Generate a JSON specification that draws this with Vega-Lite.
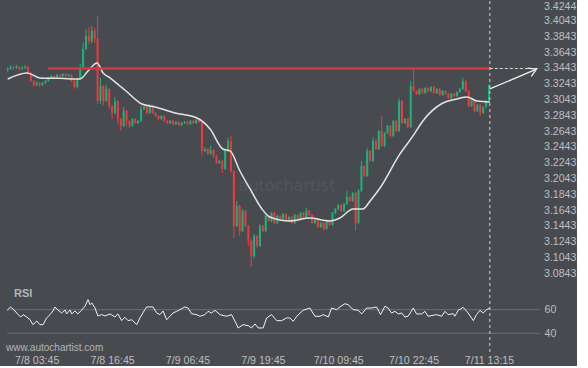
{
"$schema": "https://vega.github.io/schema/vega-lite/v6.json",
"background": "#474b50",
"padding": 0,
"config": {
  "view": {"stroke": null},
  "concat": {"spacing": 0},
  "axis": {"domain": false, "ticks": false, "tickSize": 0, "grid": false, "labelColor": "#bdbec0", "labelFont": "Liberation Sans", "labelFontSize": 10.6, "labelOverlap": false}
},
"datasets": {
"candles": [
{"b":-10,"o":3.3424,"c":3.3437,"h":3.3462,"l":3.3399},
{"b":-9,"o":3.3437,"c":3.3462,"h":3.3487,"l":3.3424},
{"b":-8,"o":3.3462,"c":3.3449,"h":3.3475,"l":3.3424},
{"b":-7,"o":3.3449,"c":3.3462,"h":3.3487,"l":3.3437},
{"b":-6,"o":3.3462,"c":3.3437,"h":3.3475,"l":3.3411},
{"b":-5,"o":3.3437,"c":3.3449,"h":3.3475,"l":3.3424},
{"b":-4,"o":3.3449,"c":3.3462,"h":3.3487,"l":3.3437},
{"b":-3,"o":3.3462,"c":3.3386,"h":3.3475,"l":3.3373},
{"b":-2,"o":3.3386,"c":3.3285,"h":3.3399,"l":3.3272},
{"b":-1,"o":3.3285,"c":3.3234,"h":3.3297,"l":3.3209},
{"b":0,"o":3.3234,"c":3.3259,"h":3.3285,"l":3.3221},
{"b":1,"o":3.3259,"c":3.3234,"h":3.3272,"l":3.3209},
{"b":2,"o":3.3234,"c":3.3259,"h":3.3272,"l":3.3221},
{"b":3,"o":3.3259,"c":3.3285,"h":3.3297,"l":3.3247},
{"b":4,"o":3.3285,"c":3.3323,"h":3.3335,"l":3.3272},
{"b":5,"o":3.3323,"c":3.3348,"h":3.3361,"l":3.3310},
{"b":6,"o":3.3348,"c":3.3335,"h":3.3361,"l":3.3323},
{"b":7,"o":3.3335,"c":3.3361,"h":3.3373,"l":3.3323},
{"b":8,"o":3.3361,"c":3.3348,"h":3.3373,"l":3.3335},
{"b":9,"o":3.3348,"c":3.3373,"h":3.3386,"l":3.3335},
{"b":10,"o":3.3373,"c":3.3348,"h":3.3386,"l":3.3335},
{"b":11,"o":3.3348,"c":3.3361,"h":3.3373,"l":3.3335},
{"b":12,"o":3.3361,"c":3.3285,"h":3.3373,"l":3.3272},
{"b":13,"o":3.3285,"c":3.3209,"h":3.3297,"l":3.3184},
{"b":14,"o":3.3209,"c":3.3310,"h":3.3323,"l":3.3196},
{"b":15,"o":3.3310,"c":3.3462,"h":3.3500,"l":3.3297},
{"b":16,"o":3.3462,"c":3.3690,"h":3.3766,"l":3.3449},
{"b":17,"o":3.3690,"c":3.3854,"h":3.3943,"l":3.3677},
{"b":18,"o":3.3854,"c":3.3791,"h":3.3968,"l":3.3753},
{"b":19,"o":3.3791,"c":3.3918,"h":3.3981,"l":3.3766},
{"b":20,"o":3.3918,"c":3.3816,"h":3.3956,"l":3.3766},
{"b":21,"o":3.3816,"c":3.3032,"h":3.4108,"l":3.2994},
{"b":22,"o":3.3032,"c":3.3221,"h":3.3323,"l":3.2994},
{"b":23,"o":3.3221,"c":3.3032,"h":3.3234,"l":3.2981},
{"b":24,"o":3.3032,"c":3.3184,"h":3.3234,"l":3.3019},
{"b":25,"o":3.3184,"c":3.2968,"h":3.3196,"l":3.2930},
{"b":26,"o":3.2968,"c":3.2880,"h":3.2981,"l":3.2804},
{"b":27,"o":3.2880,"c":3.3032,"h":3.3082,"l":3.2867},
{"b":28,"o":3.3032,"c":3.2804,"h":3.3044,"l":3.2740},
{"b":29,"o":3.2804,"c":3.2715,"h":3.2816,"l":3.2652},
{"b":30,"o":3.2715,"c":3.2905,"h":3.2956,"l":3.2702},
{"b":31,"o":3.2905,"c":3.2779,"h":3.2918,"l":3.2715},
{"b":32,"o":3.2779,"c":3.2715,"h":3.2791,"l":3.2690},
{"b":33,"o":3.2715,"c":3.2804,"h":3.2816,"l":3.2702},
{"b":34,"o":3.2804,"c":3.2753,"h":3.2816,"l":3.2740},
{"b":35,"o":3.2753,"c":3.2779,"h":3.2791,"l":3.2740},
{"b":36,"o":3.2779,"c":3.2930,"h":3.2968,"l":3.2766},
{"b":37,"o":3.2930,"c":3.2956,"h":3.2968,"l":3.2918},
{"b":38,"o":3.2956,"c":3.2880,"h":3.2968,"l":3.2867},
{"b":39,"o":3.2880,"c":3.2968,"h":3.2994,"l":3.2867},
{"b":40,"o":3.2968,"c":3.2880,"h":3.2981,"l":3.2867},
{"b":41,"o":3.2880,"c":3.2842,"h":3.2892,"l":3.2829},
{"b":42,"o":3.2842,"c":3.2804,"h":3.2854,"l":3.2791},
{"b":43,"o":3.2804,"c":3.2842,"h":3.2854,"l":3.2791},
{"b":44,"o":3.2842,"c":3.2779,"h":3.2854,"l":3.2766},
{"b":45,"o":3.2779,"c":3.2753,"h":3.2791,"l":3.2740},
{"b":46,"o":3.2753,"c":3.2779,"h":3.2791,"l":3.2740},
{"b":47,"o":3.2779,"c":3.2740,"h":3.2791,"l":3.2728},
{"b":48,"o":3.2740,"c":3.2766,"h":3.2779,"l":3.2728},
{"b":49,"o":3.2766,"c":3.2728,"h":3.2779,"l":3.2715},
{"b":50,"o":3.2728,"c":3.2753,"h":3.2766,"l":3.2715},
{"b":51,"o":3.2753,"c":3.2766,"h":3.2779,"l":3.2740},
{"b":52,"o":3.2766,"c":3.2740,"h":3.2779,"l":3.2728},
{"b":53,"o":3.2740,"c":3.2779,"h":3.2791,"l":3.2728},
{"b":54,"o":3.2779,"c":3.2753,"h":3.2791,"l":3.2740},
{"b":55,"o":3.2753,"c":3.2791,"h":3.2804,"l":3.2740},
{"b":56,"o":3.2791,"c":3.2766,"h":3.2804,"l":3.2753},
{"b":57,"o":3.2766,"c":3.2399,"h":3.2779,"l":3.2335},
{"b":58,"o":3.2399,"c":3.2424,"h":3.2449,"l":3.2386},
{"b":59,"o":3.2424,"c":3.2361,"h":3.2437,"l":3.2348},
{"b":60,"o":3.2361,"c":3.2411,"h":3.2462,"l":3.2348},
{"b":61,"o":3.2411,"c":3.2335,"h":3.2424,"l":3.2310},
{"b":62,"o":3.2335,"c":3.2247,"h":3.2348,"l":3.2234},
{"b":63,"o":3.2247,"c":3.2272,"h":3.2285,"l":3.2234},
{"b":64,"o":3.2272,"c":3.2171,"h":3.2285,"l":3.2120},
{"b":65,"o":3.2171,"c":3.2399,"h":3.2411,"l":3.2158},
{"b":66,"o":3.2399,"c":3.2525,"h":3.2563,"l":3.2386},
{"b":67,"o":3.2525,"c":3.2145,"h":3.2589,"l":3.2120},
{"b":68,"o":3.2145,"c":3.1449,"h":3.2158,"l":3.1297},
{"b":69,"o":3.1449,"c":3.1703,"h":3.1766,"l":3.1437},
{"b":70,"o":3.1703,"c":3.1386,"h":3.1715,"l":3.1323},
{"b":71,"o":3.1386,"c":3.1639,"h":3.1664,"l":3.1373},
{"b":72,"o":3.1639,"c":3.1449,"h":3.1652,"l":3.1437},
{"b":73,"o":3.1449,"c":3.1260,"h":3.1462,"l":3.1196},
{"b":74,"o":3.1260,"c":3.1070,"h":3.1285,"l":3.0930},
{"b":75,"o":3.1070,"c":3.1323,"h":3.1348,"l":3.1044},
{"b":76,"o":3.1323,"c":3.1196,"h":3.1335,"l":3.1171},
{"b":77,"o":3.1196,"c":3.1449,"h":3.1475,"l":3.1184},
{"b":78,"o":3.1449,"c":3.1386,"h":3.1462,"l":3.1373},
{"b":79,"o":3.1386,"c":3.1576,"h":3.1601,"l":3.1373},
{"b":80,"o":3.1576,"c":3.1513,"h":3.1589,"l":3.1500},
{"b":81,"o":3.1513,"c":3.1614,"h":3.1626,"l":3.1500},
{"b":82,"o":3.1614,"c":3.1487,"h":3.1626,"l":3.1475},
{"b":83,"o":3.1487,"c":3.1576,"h":3.1589,"l":3.1475},
{"b":84,"o":3.1576,"c":3.1538,"h":3.1589,"l":3.1525},
{"b":85,"o":3.1538,"c":3.1601,"h":3.1614,"l":3.1525},
{"b":86,"o":3.1601,"c":3.1513,"h":3.1614,"l":3.1500},
{"b":87,"o":3.1513,"c":3.1563,"h":3.1576,"l":3.1500},
{"b":88,"o":3.1563,"c":3.1487,"h":3.1576,"l":3.1475},
{"b":89,"o":3.1487,"c":3.1589,"h":3.1601,"l":3.1475},
{"b":90,"o":3.1589,"c":3.1538,"h":3.1601,"l":3.1525},
{"b":91,"o":3.1538,"c":3.1614,"h":3.1626,"l":3.1525},
{"b":92,"o":3.1614,"c":3.1563,"h":3.1626,"l":3.1550},
{"b":93,"o":3.1563,"c":3.1639,"h":3.1677,"l":3.1550},
{"b":94,"o":3.1639,"c":3.1589,"h":3.1652,"l":3.1576},
{"b":95,"o":3.1589,"c":3.1487,"h":3.1601,"l":3.1475},
{"b":96,"o":3.1487,"c":3.1538,"h":3.1550,"l":3.1475},
{"b":97,"o":3.1538,"c":3.1437,"h":3.1550,"l":3.1424},
{"b":98,"o":3.1437,"c":3.1487,"h":3.1500,"l":3.1424},
{"b":99,"o":3.1487,"c":3.1411,"h":3.1500,"l":3.1386},
{"b":100,"o":3.1411,"c":3.1513,"h":3.1525,"l":3.1399},
{"b":101,"o":3.1513,"c":3.1462,"h":3.1525,"l":3.1449},
{"b":102,"o":3.1462,"c":3.1614,"h":3.1626,"l":3.1449},
{"b":103,"o":3.1614,"c":3.1664,"h":3.1677,"l":3.1601},
{"b":104,"o":3.1664,"c":3.1715,"h":3.1728,"l":3.1652},
{"b":105,"o":3.1715,"c":3.1639,"h":3.1728,"l":3.1626},
{"b":106,"o":3.1639,"c":3.1728,"h":3.1741,"l":3.1626},
{"b":107,"o":3.1728,"c":3.1816,"h":3.1892,"l":3.1715},
{"b":108,"o":3.1816,"c":3.1766,"h":3.1829,"l":3.1753},
{"b":109,"o":3.1766,"c":3.1867,"h":3.1880,"l":3.1753},
{"b":110,"o":3.1867,"c":3.1487,"h":3.1880,"l":3.1386},
{"b":111,"o":3.1487,"c":3.1892,"h":3.1918,"l":3.1475},
{"b":112,"o":3.1892,"c":3.2209,"h":3.2272,"l":3.1880},
{"b":113,"o":3.2209,"c":3.2082,"h":3.2221,"l":3.2069},
{"b":114,"o":3.2082,"c":3.2399,"h":3.2437,"l":3.2069},
{"b":115,"o":3.2399,"c":3.2272,"h":3.2411,"l":3.2259},
{"b":116,"o":3.2272,"c":3.2525,"h":3.2576,"l":3.2259},
{"b":117,"o":3.2525,"c":3.2424,"h":3.2550,"l":3.2411},
{"b":118,"o":3.2424,"c":3.2652,"h":3.2664,"l":3.2411},
{"b":119,"o":3.2652,"c":3.2462,"h":3.2842,"l":3.2449},
{"b":120,"o":3.2462,"c":3.2626,"h":3.2639,"l":3.2449},
{"b":121,"o":3.2626,"c":3.2715,"h":3.2728,"l":3.2614},
{"b":122,"o":3.2715,"c":3.2589,"h":3.2728,"l":3.2576},
{"b":123,"o":3.2589,"c":3.2779,"h":3.2791,"l":3.2576},
{"b":124,"o":3.2779,"c":3.2652,"h":3.2791,"l":3.2639},
{"b":125,"o":3.2652,"c":3.3032,"h":3.3070,"l":3.2639},
{"b":126,"o":3.3032,"c":3.2753,"h":3.3044,"l":3.2740},
{"b":127,"o":3.2753,"c":3.2804,"h":3.2816,"l":3.2740},
{"b":128,"o":3.2804,"c":3.2702,"h":3.2816,"l":3.2690},
{"b":129,"o":3.2702,"c":3.3221,"h":3.3285,"l":3.2690},
{"b":130,"o":3.3221,"c":3.3158,"h":3.3437,"l":3.3145},
{"b":131,"o":3.3158,"c":3.3120,"h":3.3171,"l":3.3108},
{"b":132,"o":3.3120,"c":3.3184,"h":3.3196,"l":3.3108},
{"b":133,"o":3.3184,"c":3.3133,"h":3.3196,"l":3.3120},
{"b":134,"o":3.3133,"c":3.3196,"h":3.3209,"l":3.3120},
{"b":135,"o":3.3196,"c":3.3158,"h":3.3209,"l":3.3145},
{"b":136,"o":3.3158,"c":3.3209,"h":3.3221,"l":3.3145},
{"b":137,"o":3.3209,"c":3.3133,"h":3.3221,"l":3.3120},
{"b":138,"o":3.3133,"c":3.3184,"h":3.3196,"l":3.3120},
{"b":139,"o":3.3184,"c":3.3108,"h":3.3196,"l":3.3095},
{"b":140,"o":3.3108,"c":3.3158,"h":3.3171,"l":3.3095},
{"b":141,"o":3.3158,"c":3.3120,"h":3.3171,"l":3.3108},
{"b":142,"o":3.3120,"c":3.3070,"h":3.3133,"l":3.3057},
{"b":143,"o":3.3070,"c":3.3120,"h":3.3133,"l":3.3057},
{"b":144,"o":3.3120,"c":3.3095,"h":3.3133,"l":3.3082},
{"b":145,"o":3.3095,"c":3.3145,"h":3.3158,"l":3.3082},
{"b":146,"o":3.3145,"c":3.3184,"h":3.3196,"l":3.3133},
{"b":147,"o":3.3184,"c":3.3285,"h":3.3323,"l":3.3171},
{"b":148,"o":3.3285,"c":3.3158,"h":3.3297,"l":3.3145},
{"b":149,"o":3.3158,"c":3.2968,"h":3.3171,"l":3.2956},
{"b":150,"o":3.2968,"c":3.3032,"h":3.3044,"l":3.2956},
{"b":151,"o":3.3032,"c":3.2905,"h":3.3044,"l":3.2892},
{"b":152,"o":3.2905,"c":3.2981,"h":3.2994,"l":3.2892},
{"b":153,"o":3.2981,"c":3.2880,"h":3.2994,"l":3.2842},
{"b":154,"o":3.2880,"c":3.2956,"h":3.2968,"l":3.2867},
{"b":155,"o":3.2956,"c":3.3032,"h":3.3044,"l":3.2943},
{"b":156,"o":3.3032,"c":3.3221,"h":3.3247,"l":3.3019}
],
"ma": [
{"b":-10,"v":3.3310},{"b":-3.3,"v":3.3386},{"b":1.1,"v":3.3323},{"b":8,"v":3.3318},{"b":14.9,"v":3.3310},
{"b":17.7,"v":3.3411},{"b":20.8,"v":3.3513},{"b":22.9,"v":3.3386},{"b":25.3,"v":3.3323},{"b":28.7,"v":3.3221},
{"b":30.4,"v":3.3171},{"b":36.3,"v":3.2994},{"b":40.8,"v":3.2956},{"b":47.7,"v":3.2880},{"b":55.3,"v":3.2816},
{"b":59.8,"v":3.2677},{"b":64.2,"v":3.2424},{"b":66.7,"v":3.2399},{"b":70.1,"v":3.2145},{"b":73.6,"v":3.1918},
{"b":77.7,"v":3.1664},{"b":80.4,"v":3.1563},{"b":87.3,"v":3.1513},{"b":94.2,"v":3.1550},{"b":101,"v":3.1513},
{"b":104.6,"v":3.1550},{"b":109.1,"v":3.1664},{"b":112.5,"v":3.1664},{"b":115,"v":3.1766},{"b":118.4,"v":3.1930},
{"b":125.3,"v":3.2361},{"b":129.8,"v":3.2589},{"b":133.2,"v":3.2779},{"b":140.1,"v":3.3006},{"b":144.9,"v":3.3057},
{"b":148.4,"v":3.3082},{"b":151.8,"v":3.3032},{"b":156.3,"v":3.3019}
],
"segs": [
{"k":"level","b":4,"v":3.3443,"b2":156.3,"v2":3.3443},
{"k":"ext","b":156.3,"v":3.3443,"b2":173.6,"v2":3.3443},
{"k":"arrow","b":156.3,"v":3.3184,"b2":172.4,"v2":3.3434},
{"k":"arrow","b":172.4,"v":3.3434,"b2":169.3,"v2":3.3447},
{"k":"arrow","b":172.4,"v":3.3434,"b2":170.6,"v2":3.3342}
],
"now": [{"b":156.3}],
"mark": [{"b":86.3,"v":3.1956,"t":"autochartist"}],
"ticks": [
{"v":3.0843},{"v":3.1043},{"v":3.1243},{"v":3.1443},{"v":3.1643},{"v":3.1843},{"v":3.2043},{"v":3.2243},{"v":3.2443},
{"v":3.2643},{"v":3.2843},{"v":3.3043},{"v":3.3243},{"v":3.3443},{"v":3.3643},{"v":3.3843},{"v":3.4043},{"v":3.4244}
],
"rsi": [
{"b":-10.2,"r":59.5},{"b":-9.0,"r":62.3},{"b":-7.5,"r":58.9},{"b":-6.4,"r":55.8},{"b":-5.5,"r":53.8},{"b":-4.7,"r":55.8},
{"b":-3.4,"r":53.8},{"b":-2.3,"r":51.5},{"b":-1.3,"r":47.3},{"b":0,"r":50.4},{"b":1.1,"r":47.3},{"b":2.2,"r":47.3},
{"b":3.4,"r":53.0},{"b":4.6,"r":55.8},{"b":5.6,"r":58.9},{"b":6.3,"r":62.3},{"b":7.3,"r":59.7},{"b":8.6,"r":57.2},
{"b":9.8,"r":59.7},{"b":10.3,"r":56.4},{"b":11.5,"r":59.7},{"b":12.1,"r":56.4},{"b":13.2,"r":58.9},{"b":14.2,"r":56.4},
{"b":15.5,"r":59.7},{"b":16.7,"r":63.1},{"b":17.7,"r":68.5},{"b":18.4,"r":64.2},{"b":19.0,"r":65.7},{"b":20.1,"r":61.4},
{"b":21.1,"r":54.7},{"b":22.4,"r":55.8},{"b":23.6,"r":54.7},{"b":25.3,"r":56.4},{"b":27.0,"r":53.8},{"b":28.0,"r":56.4},
{"b":29.3,"r":50.7},{"b":30.4,"r":53.6},{"b":31.5,"r":50.7},{"b":32.8,"r":51.5},{"b":34.5,"r":47.3},{"b":35.6,"r":53.0},
{"b":37.3,"r":60.0},{"b":37.9,"r":62.3},{"b":40.1,"r":62.3},{"b":41.4,"r":57.2},{"b":42.5,"r":55.8},{"b":43.6,"r":58.9},
{"b":44.8,"r":51.5},{"b":46.0,"r":54.4},{"b":47.0,"r":57.2},{"b":48.3,"r":58.6},{"b":49.4,"r":60.0},{"b":51.1,"r":62.3},
{"b":52.2,"r":61.4},{"b":53.4,"r":56.6},{"b":55.2,"r":55.8},{"b":56.3,"r":54.4},{"b":58.0,"r":55.8},{"b":59.1,"r":58.6},
{"b":60.3,"r":57.2},{"b":61.5,"r":59.5},{"b":63.2,"r":55.8},{"b":65.5,"r":54.4},{"b":67.2,"r":55.8},{"b":68.4,"r":50.2},
{"b":69.5,"r":44.5},{"b":71.2,"r":47.3},{"b":73.0,"r":46.4},{"b":74.1,"r":44.5},{"b":75.3,"r":47.9},{"b":76.4,"r":44.5},
{"b":78.1,"r":44.5},{"b":79.3,"r":53.0},{"b":81.0,"r":55.8},{"b":82.8,"r":50.7},{"b":84.5,"r":50.7},{"b":86.2,"r":53.0},
{"b":87.3,"r":53.0},{"b":88.5,"r":50.2},{"b":89.7,"r":54.4},{"b":91.9,"r":59.5},{"b":94.2,"r":61.4},{"b":96.0,"r":54.4},
{"b":97.7,"r":54.4},{"b":98.8,"r":55.8},{"b":100.6,"r":53.8},{"b":101.7,"r":61.4},{"b":103.4,"r":60.0},{"b":104.6,"r":62.3},
{"b":106.3,"r":65.1},{"b":107.4,"r":64.2},{"b":109.2,"r":60.0},{"b":110.9,"r":59.5},{"b":112.1,"r":56.4},{"b":113.8,"r":61.4},
{"b":115.5,"r":61.4},{"b":117.2,"r":62.3},{"b":118.6,"r":55.8},{"b":120.1,"r":62.9},{"b":121.2,"r":61.4},{"b":122.4,"r":57.2},
{"b":123.6,"r":58.6},{"b":124.7,"r":56.4},{"b":125.9,"r":57.2},{"b":127.0,"r":53.8},{"b":128.1,"r":54.4},{"b":129.9,"r":61.4},
{"b":131.0,"r":56.4},{"b":132.8,"r":56.4},{"b":133.9,"r":58.6},{"b":135.0,"r":54.4},{"b":137.9,"r":55.8},{"b":139.7,"r":54.4},
{"b":140.8,"r":58.6},{"b":141.9,"r":55.8},{"b":143.7,"r":56.6},{"b":144.2,"r":54.4},{"b":145.4,"r":59.5},{"b":147.1,"r":62.0},
{"b":148.8,"r":57.2},{"b":150.6,"r":50.7},{"b":151.7,"r":55.8},{"b":152.9,"r":59.5},{"b":154.0,"r":57.2},{"b":155.2,"r":60.0},
{"b":156.3,"r":61.4}
],
"rsilev": [{"b":-10.2,"b2":173.6,"r":60},{"b":-10.2,"b2":173.6,"r":40}],
"rsitext": [{"b":-7.8,"r":73.3,"t":"RSI"}],
"site": [{"b":-10.6,"r":27.5,"t":"www.autochartist.com"}]
},
"vconcat": [
{
 "width": 540, "height": 280,
 "layer": [
  {
   "data": {"name": "mark"},
   "mark": {"type": "text", "font": "DejaVu Sans", "fontSize": 16, "letterSpacing": 3, "color": "#52565b", "align": "center", "baseline": "middle"},
   "encoding": {
    "x": {"field": "b", "type": "quantitative", "scale": {"domain": [-12.66, 173.6], "nice": false, "zero": false}, "axis": null},
    "y": {"field": "v", "type": "quantitative", "scale": {"domain": [3.0753, 3.4297], "nice": false, "zero": false}, "axis": null},
    "text": {"field": "t"}
   }
  },
  {
   "data": {"name": "ticks"},
   "transform": [{"filter": "datum.v < 3.42"}],
   "mark": {"type": "text", "font": "Liberation Sans", "fontSize": 10.6, "color": "#bdbec0", "align": "left", "baseline": "middle", "dx": 4},
   "encoding": {
    "x": {"datum": 173.6, "type": "quantitative", "scale": {"domain": [-12.66, 173.6], "nice": false, "zero": false}, "axis": null},
    "y": {"field": "v", "type": "quantitative", "scale": {"domain": [3.0753, 3.4297], "nice": false, "zero": false}, "axis": null},
    "text": {"field": "v", "format": ".4f"}
   }
  },
  {
   "data": {"name": "ticks"},
   "transform": [{"filter": "datum.v >= 3.42"}],
   "mark": {"type": "text", "font": "Liberation Sans", "fontSize": 10.6, "color": "#bdbec0", "align": "left", "baseline": "middle", "dx": 4, "dy": 1.4},
   "encoding": {
    "x": {"datum": 173.6, "type": "quantitative", "scale": {"domain": [-12.66, 173.6], "nice": false, "zero": false}, "axis": null},
    "y": {"field": "v", "type": "quantitative", "scale": {"domain": [3.0753, 3.4297], "nice": false, "zero": false}, "axis": null},
    "text": {"field": "v", "format": ".4f"}
   }
  },
  {
   "data": {"name": "candles"},
   "mark": {"type": "rule", "strokeWidth": 1},
   "encoding": {
    "x": {"field": "b", "type": "quantitative", "scale": {"domain": [-12.66, 173.6], "nice": false, "zero": false}, "axis": null},
    "y": {"field": "l", "type": "quantitative", "scale": {"domain": [3.0753, 3.4297], "nice": false, "zero": false}, "axis": null},
    "y2": {"field": "h"},
    "color": {"condition": {"test": "datum.c >= datum.o", "value": "#1bb37a"}, "value": "#f0383e"}
   }
  },
  {
   "data": {"name": "candles"},
   "mark": {"type": "rule", "strokeWidth": 2},
   "encoding": {
    "x": {"field": "b", "type": "quantitative", "scale": {"domain": [-12.66, 173.6], "nice": false, "zero": false}, "axis": null},
    "y": {"field": "o", "type": "quantitative", "scale": {"domain": [3.0753, 3.4297], "nice": false, "zero": false}, "axis": null},
    "y2": {"field": "c"},
    "color": {"condition": {"test": "datum.c >= datum.o", "value": "#1bb37a"}, "value": "#f0383e"}
   }
  },
  {
   "data": {"name": "ma"},
   "mark": {"type": "line", "color": "#e4e4e4", "strokeWidth": 1.5, "interpolate": "monotone"},
   "encoding": {
    "x": {"field": "b", "type": "quantitative", "scale": {"domain": [-12.66, 173.6], "nice": false, "zero": false}, "axis": null},
    "y": {"field": "v", "type": "quantitative", "scale": {"domain": [3.0753, 3.4297], "nice": false, "zero": false}, "axis": null}
   }
  },
  {
   "data": {"name": "segs"},
   "transform": [{"filter": "datum.k == 'level'"}],
   "mark": {"type": "rule", "color": "#e0353d", "strokeWidth": 2.5, "opacity": 0.95},
   "encoding": {
    "x": {"field": "b", "type": "quantitative", "scale": {"domain": [-12.66, 173.6], "nice": false, "zero": false}, "axis": null},
    "x2": {"field": "b2"},
    "y": {"field": "v", "type": "quantitative", "scale": {"domain": [3.0753, 3.4297], "nice": false, "zero": false}, "axis": null},
    "y2": {"field": "v2"}
   }
  },
  {
   "data": {"name": "segs"},
   "transform": [{"filter": "datum.k == 'ext'"}],
   "mark": {"type": "rule", "color": "#d8d8d8", "strokeWidth": 1, "strokeDash": [3, 2]},
   "encoding": {
    "x": {"field": "b", "type": "quantitative", "scale": {"domain": [-12.66, 173.6], "nice": false, "zero": false}, "axis": null},
    "x2": {"field": "b2"},
    "y": {"field": "v", "type": "quantitative", "scale": {"domain": [3.0753, 3.4297], "nice": false, "zero": false}, "axis": null},
    "y2": {"field": "v2"}
   }
  },
  {
   "data": {"name": "segs"},
   "transform": [{"filter": "datum.k == 'arrow'"}],
   "mark": {"type": "rule", "color": "#f0f0f0", "strokeWidth": 1.3},
   "encoding": {
    "x": {"field": "b", "type": "quantitative", "scale": {"domain": [-12.66, 173.6], "nice": false, "zero": false}, "axis": null},
    "x2": {"field": "b2"},
    "y": {"field": "v", "type": "quantitative", "scale": {"domain": [3.0753, 3.4297], "nice": false, "zero": false}, "axis": null},
    "y2": {"field": "v2"}
   }
  },
  {
   "data": {"name": "now"},
   "mark": {"type": "rule", "color": "#d0d0d0", "strokeWidth": 1, "strokeDash": [3, 3]},
   "encoding": {
    "x": {"field": "b", "type": "quantitative", "scale": {"domain": [-12.66, 173.6], "nice": false, "zero": false}, "axis": null}
   }
  }
 ]
},
{
 "width": 540, "height": 70,
 "layer": [
  {
   "data": {"name": "rsilev"},
   "mark": {"type": "rule", "color": "#6b6f74", "strokeWidth": 1},
   "encoding": {
    "x": {"field": "b", "type": "quantitative", "scale": {"domain": [-12.66, 173.6], "nice": false, "zero": false}, "title": null,
          "axis": {"values": [0, 26, 52, 78, 104, 130, 156], "labelExpr": "['7/8 03:45','7/8 16:45','7/9 06:45','7/9 19:45','7/10 09:45','7/10 22:45','7/11 13:15'][round(datum.value/26)]", "labelPadding": 2, "labelFlush": false, "labelOverlap": false}},
    "x2": {"field": "b2"},
    "y": {"field": "r", "type": "quantitative", "scale": {"domain": [23.3, 82.6], "nice": false, "zero": false}, "title": null,
          "axis": {"orient": "right", "values": [40, 60], "labelPadding": 4}}
   }
  },
  {
   "data": {"name": "rsi"},
   "mark": {"type": "line", "color": "#f2f2f2", "strokeWidth": 1},
   "encoding": {
    "x": {"field": "b", "type": "quantitative", "scale": {"domain": [-12.66, 173.6], "nice": false, "zero": false}, "title": null},
    "y": {"field": "r", "type": "quantitative", "scale": {"domain": [23.3, 82.6], "nice": false, "zero": false}, "title": null}
   }
  },
  {
   "data": {"name": "now"},
   "mark": {"type": "rule", "color": "#d0d0d0", "strokeWidth": 1, "strokeDash": [3, 3]},
   "encoding": {
    "x": {"field": "b", "type": "quantitative", "scale": {"domain": [-12.66, 173.6], "nice": false, "zero": false}, "title": null}
   }
  },
  {
   "data": {"name": "rsitext"},
   "mark": {"type": "text", "font": "Liberation Sans", "fontSize": 11, "fontWeight": "bold", "color": "#b4b5b7", "align": "left", "baseline": "middle"},
   "encoding": {
    "x": {"field": "b", "type": "quantitative", "scale": {"domain": [-12.66, 173.6], "nice": false, "zero": false}, "title": null},
    "y": {"field": "r", "type": "quantitative", "scale": {"domain": [23.3, 82.6], "nice": false, "zero": false}, "title": null},
    "text": {"field": "t"}
   }
  },
  {
   "data": {"name": "site"},
   "mark": {"type": "text", "font": "Liberation Sans", "fontSize": 10, "letterSpacing": 0.3, "color": "#b4b5b7", "align": "left", "baseline": "middle"},
   "encoding": {
    "x": {"field": "b", "type": "quantitative", "scale": {"domain": [-12.66, 173.6], "nice": false, "zero": false}, "title": null},
    "y": {"field": "r", "type": "quantitative", "scale": {"domain": [23.3, 82.6], "nice": false, "zero": false}, "title": null},
    "text": {"field": "t"}
   }
  }
 ]
}
]
}
